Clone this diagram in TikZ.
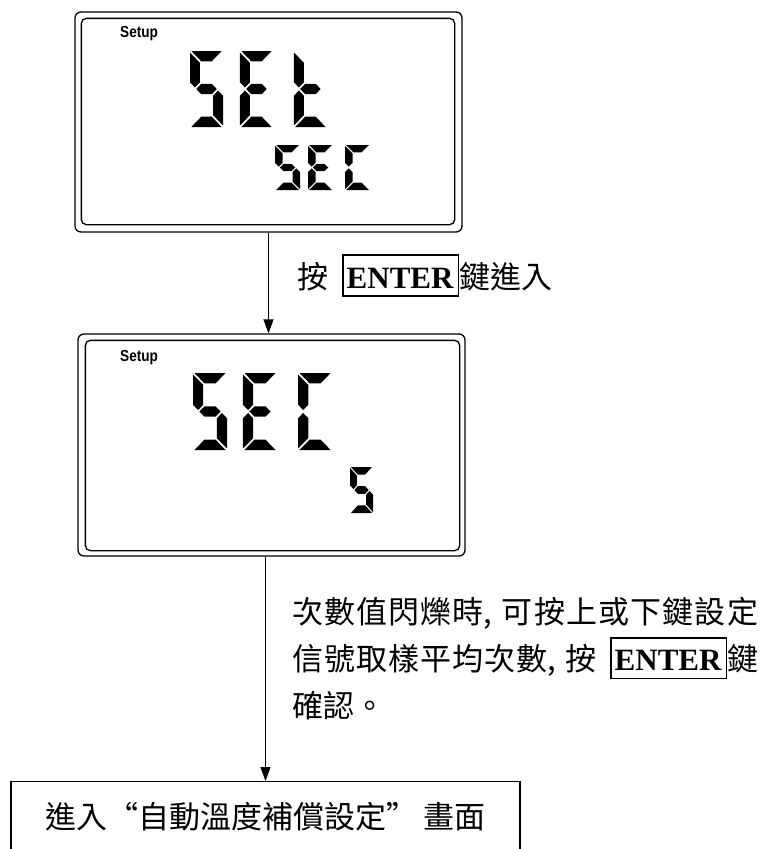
\documentclass[tikz,border=0pt]{standalone}
\usepackage{fontspec}
\setmainfont{Liberation Serif}
\newfontfamily\cjk{Noto Sans CJK TC}
\newfontfamily\lcdfont[FakeStretch=0.85]{Liberation Sans}
\usetikzlibrary{arrows.meta}

% CJK ideographs get stretchable glue between them (for justified lines)
\count255="4E00
\loop
  \XeTeXcharclass\count255=1
  \advance\count255 by 1
\ifnum\count255<"A000 \repeat
\XeTeXinterchartoks 1 1 = {\hskip 0pt plus 3pt\relax}

\newcommand\lcdg{0.04}
\newcommand\lcdtx{0.3}
\newcommand\lcdty{0.27}
\newcommand\lcdsegA{\fill (\lcdg,2) -- (1-\lcdg,2) -- (1-\lcdtx-\lcdg,2-\lcdty) -- (\lcdtx+\lcdg,2-\lcdty) -- cycle;}
\newcommand\lcdsegD{\fill (\lcdg,0) -- (1-\lcdg,0) -- (1-\lcdtx-\lcdg,\lcdty) -- (\lcdtx+\lcdg,\lcdty) -- cycle;}
\newcommand\lcdsegG{\fill (\lcdtx/2+\lcdg,1) -- (\lcdtx+\lcdg,1+\lcdty/2) -- (1-\lcdtx-\lcdg,1+\lcdty/2)
  -- (1-\lcdtx/2-\lcdg,1) -- (1-\lcdtx-\lcdg,1-\lcdty/2) -- (\lcdtx+\lcdg,1-\lcdty/2) -- cycle;}
\newcommand\lcdsegF{\fill (0,2-\lcdg) -- (\lcdtx,2-\lcdty-\lcdg) -- (\lcdtx,1+\lcdty/2+\lcdg) -- (\lcdtx/2,1+\lcdg) -- (0,1+\lcdty/2+\lcdg) -- cycle;}
\newcommand\lcdsegE{\fill (0,\lcdg) -- (\lcdtx,\lcdty+\lcdg) -- (\lcdtx,1-\lcdty/2-\lcdg) -- (\lcdtx/2,1-\lcdg) -- (0,1-\lcdty/2-\lcdg) -- cycle;}
\newcommand\lcdsegC{\fill (1,\lcdg) -- (1-\lcdtx,\lcdty+\lcdg) -- (1-\lcdtx,1-\lcdty/2-\lcdg) -- (1-\lcdtx/2,1-\lcdg) -- (1,1-\lcdty/2-\lcdg) -- cycle;}

\tikzset{
  lcdS/.pic = {\lcdsegA\lcdsegF\lcdsegG\lcdsegC\lcdsegD},
  lcdE/.pic = {\lcdsegA\lcdsegF\lcdsegG\lcdsegE\lcdsegD},
  lcdt/.pic = {\lcdsegF\lcdsegG\lcdsegE\lcdsegD},
  lcdC/.pic = {\lcdsegA\lcdsegF\lcdsegE\lcdsegD}
}

\newcommand\enterkey{{\fboxsep=0pt\fboxrule=1.6pt\fbox{\rule[-7pt]{0pt}{39pt}\hspace{3pt}\rmfamily\bfseries\fontsize{31}{47}\selectfont ENTER\hspace{4pt}}}}

\begin{document}
\begin{tikzpicture}[
  x=1pt,
  y=-1pt,
  lcd/.style = {
    draw,
    line width=1.3pt,
    rounded corners=6pt,
    minimum width=387pt,
    minimum height=220pt,
    inner sep=0pt
  },
  lcdinner/.style = {draw, line width=1.3pt, rounded corners=5pt},
  %lcdinner/.style = {draw, double, double distance=5pt},
  setup/.style = {
    font=\lcdfont\bfseries\fontsize{16}{16}\selectfont,
    inner sep=0pt,
    anchor=base west
  },
  bigdigit/.style = {x=33pt, y=38pt, xslant=0.04, /utils/exec={\def\lcdtx{0.3}\def\lcdty{0.27}}},
  smalldigit/.style = {x=25pt, y=22.5pt, xslant=0.04, /utils/exec={\def\lcdtx{0.3}\def\lcdty{0.33}}},
  flow/.style = {-{Triangle[width=10pt,length=14pt]}, line width=1.2pt},
  note/.style = {font=\cjk\fontsize{31}{47}\selectfont, inner sep=0pt},
  nextbox/.style = {
    draw,
    line width=1.3pt,
    minimum width=509pt,
    minimum height=70pt,
    inner sep=0pt,
    font=\cjk\fontsize{31}{47}\selectfont
  },
]
  \useasboundingbox (0,0) rectangle (763,849);
  \clip (0,0) rectangle (763,849);

  % first display: SEt / SEC
  \node (lcd1)[lcd] at (268.5,122) {};
  \draw[lcdinner] ([shift={(7,7)}]lcd1.north west) rectangle ([shift={(-8,-8)}]lcd1.south east);
  \node (setup1)[setup] at (120,37) {Setup};
  \begin{scope}[shift={(190,127)}, bigdigit]
    \pic at (0,0) {lcdS};
    \pic at (1.515,0) {lcdE};
    \pic at (3.15,0) {lcdt};
  \end{scope}
  \begin{scope}[shift={(275,190)}, smalldigit]
    \pic at (0,0) {lcdS};
    \pic at (1.32,0) {lcdE};
    \pic at (2.8,0) {lcdC};
  \end{scope}

  % second display: SEC / 5
  \node (lcd2)[lcd, minimum height=222pt] at (271.5,445) {};
  \draw[lcdinner] ([shift={(8,7)}]lcd2.north west) rectangle ([shift={(-6,-6)}]lcd2.south east);
  \node (setup2)[setup] at (120,361) {Setup};
  \begin{scope}[shift={(193,450)}, bigdigit, x=34pt, y=38.5pt]
    \pic at (0,0) {lcdS};
    \pic at (1.47,0) {lcdE};
    \pic at (3.09,0) {lcdC};
  \end{scope}
  \begin{scope}[shift={(350,513)}, smalldigit, x=23pt, y=23pt]
    \pic at (0,0) {lcdS};
  \end{scope}

  \node (next)[nextbox, anchor=north] at (265.5,781) {進入“自動溫度補償設定” 畫面};

  \draw[flow] (lcd1.south) -- (lcd1.south |- lcd2.north)
    node (enter)[note, midway, anchor=base west, xshift=28pt, yshift=-5pt] {按\hspace{14pt}\enterkey 鍵進入};
  \draw[flow] (next.north |- lcd2.south) -- (next.north)
    node (hint)[note, pos=0.18, anchor=north west, xshift=26pt, text width=466pt, align=justify]
    {\noindent\XeTeXinterchartokenstate=1 次數值閃爍時,\hspace{0.3em}可按上或下鍵設定\break 信號取樣平均次數,\hspace{0.3em}按\hspace{14pt}\enterkey 鍵\break 確認。};
\end{tikzpicture}
\end{document}
